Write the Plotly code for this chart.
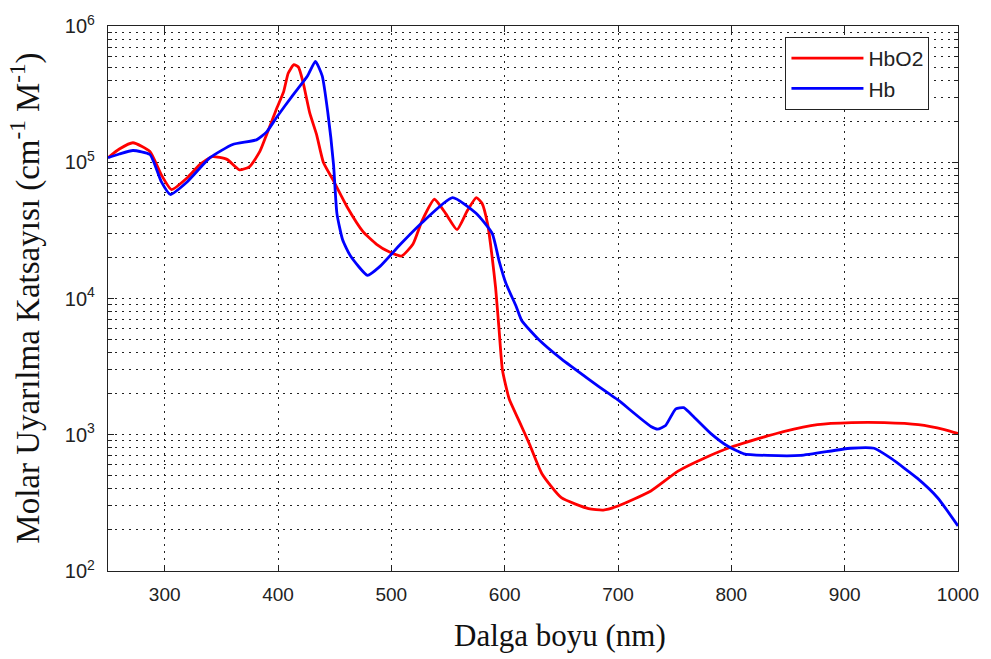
import plotly.graph_objects as go

# HbO2 (red)
hbo2_nm = [250, 260, 272, 287, 297, 306, 320, 331, 342, 355, 366, 375, 384, 390, 399, 405, 409, 414, 418, 422,
           428, 434, 440, 449, 461, 475, 487, 498, 509, 519, 527, 538, 548, 558, 567, 575, 580, 585, 589, 592,
           595, 598, 604, 613, 622, 633, 650, 674, 687, 700, 729, 753, 776, 800, 832, 846, 876, 906, 935, 965,
           988, 1000]
hbo2_val = [1.08e5, 1.25e5, 1.39e5, 1.2e5, 8.1e4, 6.3e4, 7.7e4, 9.6e4, 1.1e5, 1.05e5, 8.8e4, 9.3e4, 1.2e5, 1.6e5,
            2.5e5, 3.3e5, 4.5e5, 5.2e5, 5.0e5, 3.9e5, 2.3e5, 1.6e5, 1.0e5, 7.3e4, 4.7e4, 3.1e4, 2.5e4, 2.2e4,
            2.05e4, 2.5e4, 3.7e4, 5.35e4, 4.2e4, 3.2e4, 4.4e4, 5.5e4, 5.0e4, 3.5e4, 2.0e4, 1.2e4, 6.0e3, 3.0e3,
            1.83e3, 1.25e3, 850, 515, 345, 287, 280, 300, 387, 541, 673, 813, 980, 1056, 1186, 1227, 1227, 1186,
            1091, 1020]

# Hb (blue)
hb_nm = [250, 260, 272, 287, 297, 305, 320, 340, 360, 381, 390, 399, 413, 426, 433, 439, 444, 449, 452, 457,
         464, 479, 490, 508, 527, 554, 575, 589, 595, 601, 610, 615, 630, 650, 674, 692, 700, 729, 735, 742,
         751, 758, 767, 782, 797, 811, 832, 861, 905, 926, 941, 964, 982, 1000]
hb_val = [1.08e5, 1.15e5, 1.22e5, 1.14e5, 7.2e4, 5.8e4, 7.2e4, 1.08e5, 1.35e5, 1.46e5, 1.67e5, 2.15e5, 3.1e5,
          4.3e5, 5.5e5, 4.3e5, 2.3e5, 9.6e4, 4.2e4, 2.7e4, 2.05e4, 1.48e4, 1.72e4, 2.5e4, 3.6e4, 5.5e4, 4.2e4,
          3.0e4, 1.9e4, 1.3e4, 8.8e3, 6.9e3, 5.0e3, 3.6e3, 2.56e3, 2.0e3, 1.8e3, 1.15e3, 1.1e3, 1.17e3, 1.55e3,
          1.58e3, 1.35e3, 1.02e3, 823, 725, 705, 705, 796, 796, 670, 480, 345, 214]

x_ticks = [300, 400, 500, 600, 700, 800, 900, 1000]
y_ticks = [1e2, 1e3, 1e4, 1e5, 1e6]
y_ticktext = ["10<sup>2</sup>", "10<sup>3</sup>", "10<sup>4</sup>", "10<sup>5</sup>", "10<sup>6</sup>"]
y_minor = [m * 10 ** e for e in (2, 3, 4, 5) for m in range(2, 10)]

fig = go.Figure()
fig.add_trace(go.Scatter(x=hbo2_nm, y=hbo2_val, mode="lines", name="HbO2",
                         line=dict(color="#ff0000", width=2.8, shape="spline", smoothing=0.5)))
fig.add_trace(go.Scatter(x=hb_nm, y=hb_val, mode="lines", name="Hb",
                         line=dict(color="#0000ff", width=2.8, shape="spline", smoothing=0.5)))

dots = "2px,5px"
grid = dict(showgrid=True, gridcolor="#222222", griddash=dots, gridwidth=1.3)
fig.update_xaxes(range=[250, 1000], tickvals=x_ticks, ticks="inside", ticklen=6, tickcolor="#222",
                 showline=True, linecolor="#222", linewidth=1.2, mirror="ticks", zeroline=False,
                 tickfont=dict(family="Liberation Sans", size=19, color="#222"), ticklabelstandoff=6, **grid)
fig.update_yaxes(type="log", range=[2, 6], tickvals=y_ticks, ticktext=y_ticktext, ticks="inside", ticklen=6,
                 tickcolor="#222", showline=True, linecolor="#222", linewidth=1.2, mirror="ticks",
                 zeroline=False, tickfont=dict(family="Liberation Sans", size=20, color="#222"),
                 ticklabelstandoff=8,
                 minor=dict(tickvals=y_minor, showgrid=True, gridcolor="#222222", griddash=dots, gridwidth=1.3,
                            ticks="inside", ticklen=4, tickcolor="#222"),
                 **grid)

fig.update_layout(
    width=991, height=659,
    margin=dict(l=108, r=31, t=20, b=88),
    paper_bgcolor="white", plot_bgcolor="white",
    showlegend=True,
    legend=dict(x=0.797, y=0.98, xanchor="left", yanchor="top", bgcolor="white",
                bordercolor="#222", borderwidth=1, font=dict(family="Liberation Sans", size=21, color="#222"),
                tracegroupgap=0, itemwidth=72),
    annotations=[
        dict(text="Dalga boyu (nm)", xref="paper", yref="paper", x=0.532, y=-0.118,
             xanchor="center", yanchor="middle", showarrow=False,
             font=dict(family="Liberation Serif", size=31, color="#111")),
        dict(text="Molar Uyarılma Katsayısı (cm<sup>-1</sup> M<sup>-1</sup>)", xref="paper", yref="paper",
             x=(25 - 108) / 852, y=0.5, xanchor="center", yanchor="middle", textangle=-90, showarrow=False,
             font=dict(family="Liberation Serif", size=33, color="#111")),
    ],
)

fig.write_html("out.html")
